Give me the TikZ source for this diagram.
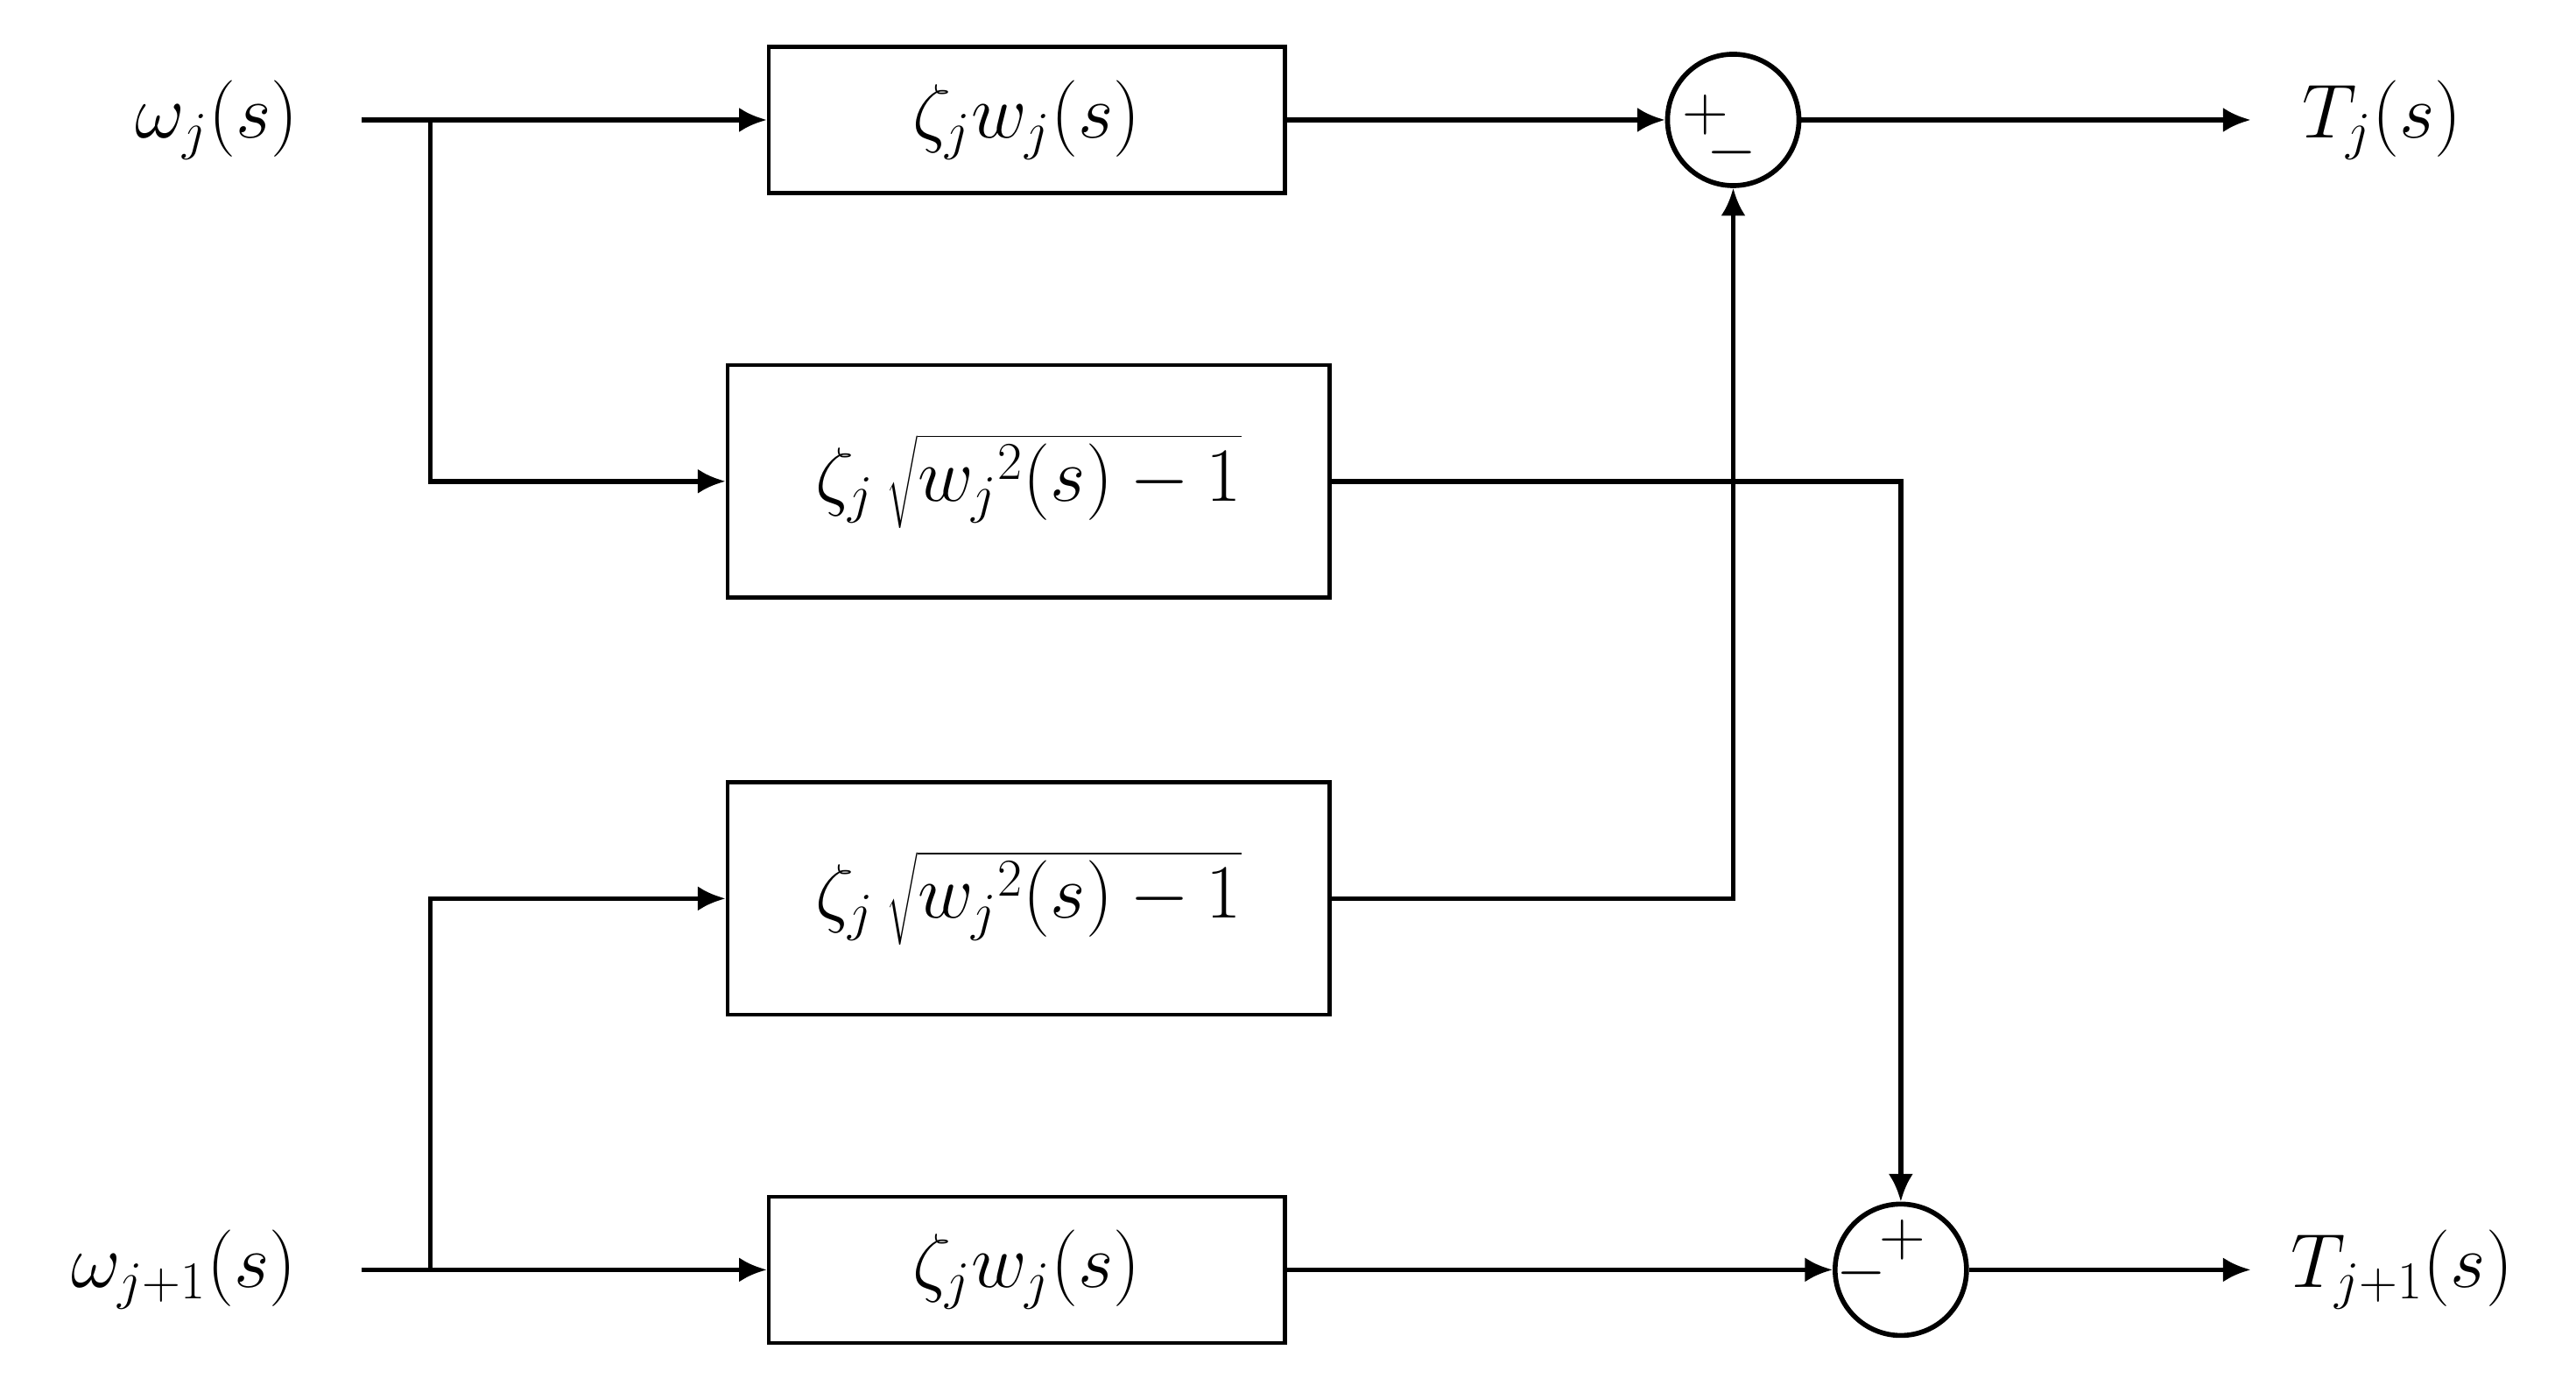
\documentclass[tikz,border=0pt]{standalone}
\usetikzlibrary{arrows.meta}
\begin{document}
\begin{tikzpicture}[x=0.01876cm, y=-0.01876cm, line width=1.6pt, >={Latex[length=9pt,width=8pt]},
    every node/.style={font=\fontsize{26}{30}\selectfont},
    block/.style={draw, line width=1.3pt, minimum height=1.67cm, inner sep=0pt},
    sumnode/.style={draw, circle, minimum size=1.5cm, inner sep=0pt},
    sign/.style={font=\fontsize{20}{22}\selectfont, inner sep=0pt}]
        \useasboundingbox (0,0) rectangle (1568,843);

        \node (wj) at (132,73) {$\omega_j(s)$};
        \node (wj1) at (112,773) {$\omega_{j+1}(s)$};
        \node (Tj) at (1450,73) {$T_j(s)$};
        \node (Tj1) at (1462,773) {$T_{j+1}(s)$};

        \node (B1) [block, minimum width=5.89cm] at (625,73) {$\zeta_j w_j(s)$};
        \node (B2) [block, minimum width=6.87cm, minimum height=2.65cm] at (626,293) {$\zeta_j\,\sqrt{{w_j}^2(s)-1}$};
        \node (B3) [block, minimum width=6.87cm, minimum height=2.65cm] at (626,547) {$\zeta_j\,\sqrt{{w_j}^2(s)-1}$};
        \node (B4) [block, minimum width=5.89cm] at (625,773) {$\zeta_j w_j(s)$};

        \node (S1) [sumnode] at (1055,73) {};
        \node (S2) [sumnode] at (1157,773) {};
        \node (S1p) [sign] at (1038,70) {$+$};
        \node (S1m) [sign] at (1054,93) {$-$};
        \node (S2p) [sign] at (1158,755) {$+$};
        \node (S2m) [sign] at (1133,775) {$-$};

        \coordinate (in1) at (220,73);
        \coordinate (in2) at (220,773);
        \coordinate (br1) at (262,73);
        \coordinate (br2) at (262,773);
        \coordinate (out1) at (1370,73);
        \coordinate (out2) at (1370,773);

        \draw (in1) -- (br1);
        \draw[->] (br1) -- (B1.west);
        \draw[->] (br1) |- (B2.west);
        \draw (in2) -- (br2);
        \draw[->] (br2) -- (B4.west);
        \draw[->] (br2) |- (B3.west);

        \draw[->] (B1.east) -- (S1.west);
        \draw[->] (B4.east) -- (S2.west);
        \draw[->] (B2.east) -| (S2.north);
        \draw[->] (B3.east) -| (S1.south);

        \draw[->] (S1.east) -- (out1);
        \draw[->] (S2.east) -- (out2);

\end{tikzpicture}
\end{document}
